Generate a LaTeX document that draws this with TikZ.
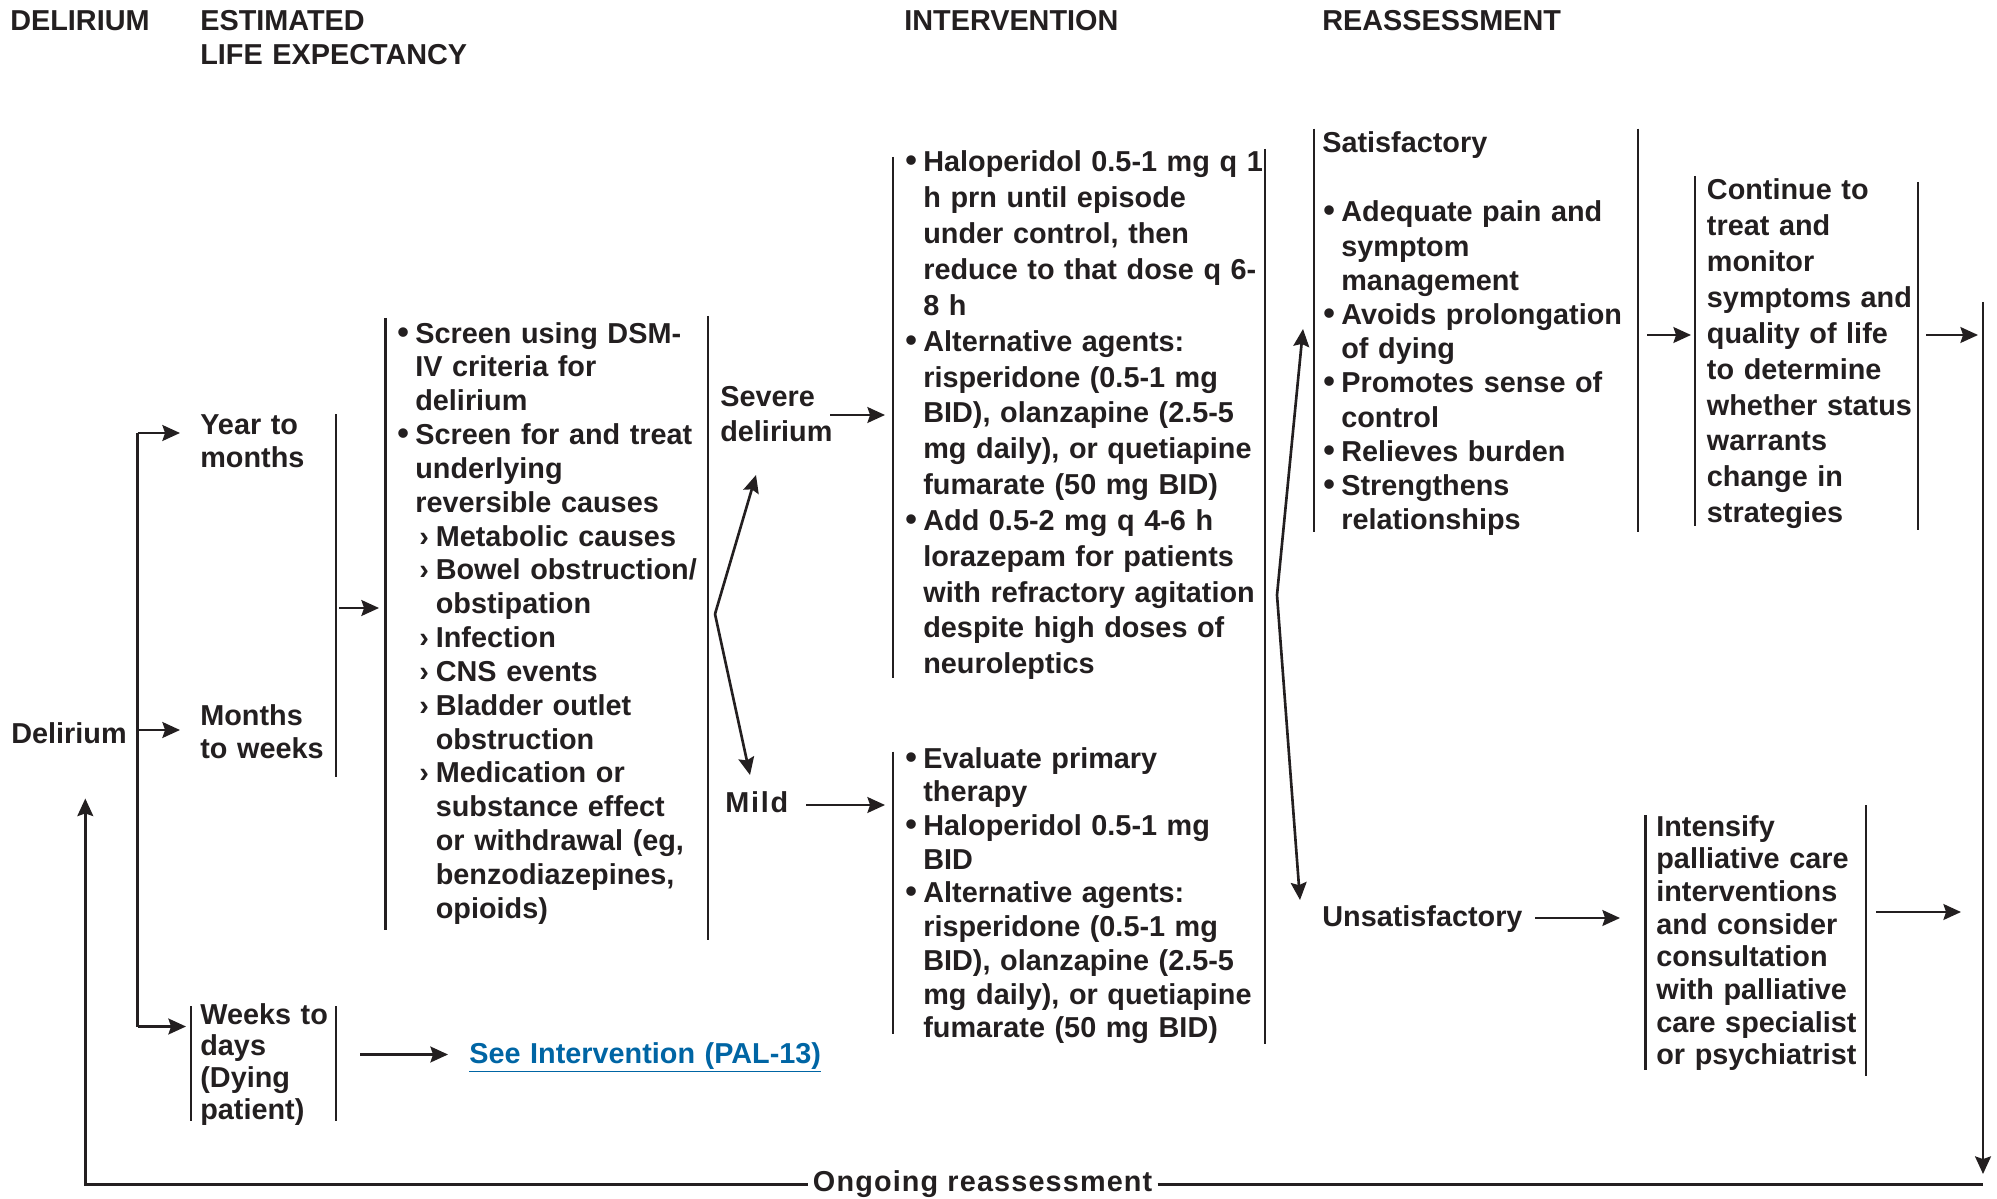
\documentclass[tikz,border=0pt]{standalone}
\usepackage{fontspec}
\setmainfont{Liberation Sans}
\usetikzlibrary{arrows.meta}

\definecolor{ink}{RGB}{35,31,32}
\definecolor{linkblue}{RGB}{0,101,164}

\newcommand\fs[1]{\bfseries\fontsize{16.4}{#1}\selectfont}
\newcommand\bul{\makebox[0.36cm][l]{\scalebox{1.15}{\textbullet}}}
\newcommand\ind{\hspace*{0.36cm}}
\newcommand\subi{\hspace*{0.44cm}\makebox[0.33cm][l]{›}}
\newcommand\subind{\hspace*{0.77cm}}

\begin{document}
\begin{tikzpicture}[
  x=0.02cm, y=-0.02cm,
  >={Stealth[length=10pt,width=9pt,inset=1.5pt]},
  every node/.style={inner sep=0pt,text=ink},
  txt/.style={anchor=base west,align=left,text width=8cm,font=\fs{#1}},
  txt/.default=19.3,
  bar/.style={draw=ink,line width=1.5pt},
  arr/.style={->,draw=ink,line width=1.5pt},
]
\useasboundingbox (0,0) rectangle (1997,1199);

%% =====================================================
%%  Column headers
%% =====================================================
\node[txt] (hdel)  at (10,31)   {DELIRIUM};
\node[txt] (hlife) at (200,31)  {ESTIMATED\\LIFE EXPECTANCY};
\node[txt] (hint)  at (904,31)  {INTERVENTION};
\node[txt] (hrea)  at (1322,31) {REASSESSMENT};

%% =====================================================
%%  Delirium and life expectancy
%% =====================================================
\node[txt] (delirium) at (11,743) {Delirium};

\node[txt=18.8] (year)   at (200,434)  {Year to\\months};
\node[txt=18.8] (months) at (200,725)  {Months\\to weeks};
\node[txt=18.1] (weeks)  at (200,1024) {Weeks to\\days\\(Dying\\patient)};

\coordinate (trunkT) at (137.7,433);
\coordinate (trunkM) at (137.7,730);
\coordinate (trunkB) at (137.7,1026.5);
\draw[bar] (trunkT) -- (trunkB);
\draw[arr] (trunkT) -- (180,433);
\draw[arr] (trunkM) -- (180,730);
\draw[arr] (trunkB) -- (186,1026.5);

% bar after year/months
\draw[bar] (336,414) -- (336,777);
\coordinate (ymOut) at (339,608);
\coordinate (scrIn) at (379,608);
\draw[arr] (ymOut) -- (scrIn);

% weeks to days
\draw[bar] (191,1006) -- (191,1121);
\draw[bar] (336,1006) -- (336,1121);
\node[txt] (pal) at (469,1063)
  {\color{linkblue}\underline{See Intervention (PAL-13)}};
\coordinate (wkOut) at (360,1054.5);
\coordinate (palIn) at (448,1054.5);
\draw[arr] (wkOut) -- (palIn);

%% =====================================================
%%  Screening
%% =====================================================
\node[txt=19.26] (screen) at (397,343)
  {\bul Screen using DSM-\\
   \ind IV criteria for\\
   \ind delirium\\
   \bul Screen for and treat\\
   \ind underlying\\
   \ind reversible causes\\
   \subi Metabolic causes\\
   \subi Bowel obstruction/\\
   \subind obstipation\\
   \subi Infection\\
   \subi CNS events\\
   \subi Bladder outlet\\
   \subind obstruction\\
   \subi Medication or\\
   \subind substance effect\\
   \subind or withdrawal (eg,\\
   \subind benzodiazepines,\\
   \subind opioids)};
\draw[bar] (385.8,318) -- (385.8,930);
\draw[bar] (708,316) -- (708,940);

%% =====================================================
%%  Severity fork
%% =====================================================
\node[txt=20.3] (severe) at (720,406) {Severe\\delirium};
\node[txt] (mild) at (725,812) {\addfontfeature{LetterSpace=6}Mild};

\coordinate (fork1) at (715,614);
\draw[arr] (fork1) -- (756,475);
\draw[arr] (fork1) -- (750,775);

\draw[arr] (830,415) -- (885,415);
\draw[arr] (806,805) -- (885,805);

%% =====================================================
%%  Intervention
%% =====================================================
\node[txt=20.4] (sevrx) at (905,172)
  {\bul Haloperidol 0.5-1 mg q 1\\
   \ind h prn until episode\\
   \ind under control, then\\
   \ind reduce to that dose q 6-\\
   \ind 8 h\\
   \bul Alternative agents:\\
   \ind risperidone (0.5-1 mg\\
   \ind BID), olanzapine (2.5-5\\
   \ind mg daily), or quetiapine\\
   \ind fumarate (50 mg BID)\\
   \bul Add 0.5-2 mg q 4-6 h\\
   \ind lorazepam for patients\\
   \ind with refractory agitation\\
   \ind despite high doses of\\
   \ind neuroleptics};
\draw[bar] (893,157) -- (893,677.5);

\node[txt=19.2] (mildrx) at (905,768)
  {\bul Evaluate primary\\
   \ind therapy\\
   \bul Haloperidol 0.5-1 mg\\
   \ind BID\\
   \bul Alternative agents:\\
   \ind risperidone (0.5-1 mg\\
   \ind BID), olanzapine (2.5-5\\
   \ind mg daily), or quetiapine\\
   \ind fumarate (50 mg BID)};
\draw[bar] (893,751.5) -- (893,1034);

% shared right bar
\draw[bar] (1265,149) -- (1265,1044);

%% =====================================================
%%  Reassessment
%% =====================================================
\coordinate (fork2) at (1277,595);
\draw[arr] (fork2) -- (1303,329);
\draw[arr] (fork2) -- (1300,900);

\node[txt] (sat) at (1322,153) {Satisfactory};
\node[txt=19.46] (satlist) at (1323,222)
  {\bul Adequate pain and\\
   \ind symptom\\
   \ind management\\
   \bul Avoids prolongation\\
   \ind of dying\\
   \bul Promotes sense of\\
   \ind control\\
   \bul Relieves burden\\
   \bul Strengthens\\
   \ind relationships};
\draw[bar] (1314,128.6) -- (1314,532);
\draw[bar] (1638,128.6) -- (1638,532);
\draw[arr] (1647,335) -- (1691,335);

\node[txt=20.4] (cont) at (1706.6,200)
  {Continue to\\treat and\\monitor\\symptoms and\\quality of life\\
   to determine\\whether status\\warrants\\change in\\strategies};
\draw[bar] (1695,176) -- (1695,526);
\draw[bar] (1918,182) -- (1918,530);
\draw[arr] (1926,335) -- (1978,335);

\node[txt] (unsat) at (1322,926) {Unsatisfactory};
\draw[arr] (1535,918) -- (1620,918);

\node[txt=18.6] (intens) at (1656,836)
  {Intensify\\palliative care\\interventions\\and consider\\consultation\\
   with palliative\\care specialist\\or psychiatrist};
\draw[bar] (1645.5,815) -- (1645.5,1070);
\draw[bar] (1866,805) -- (1866,1076);
\draw[arr] (1876,912) -- (1961,912);

%% =====================================================
%%  Ongoing reassessment loop
%% =====================================================
\coordinate (rtop) at (1983,302);
\coordinate (rend) at (1983,1174);
\coordinate (loopTip) at (85.3,798.5);
\draw[arr] (rtop) -- (rend);

\node[font=\fs{19},inner xsep=0.1cm,anchor=west] (ongoing) at (807.6,1184.5)
  {\addfontfeature{LetterSpace=4}Ongoing reassessment};
\draw[bar] (ongoing.east) -- (ongoing.east -| rend);
\draw[arr] (ongoing.west) -| (loopTip);

\end{tikzpicture}
\end{document}
